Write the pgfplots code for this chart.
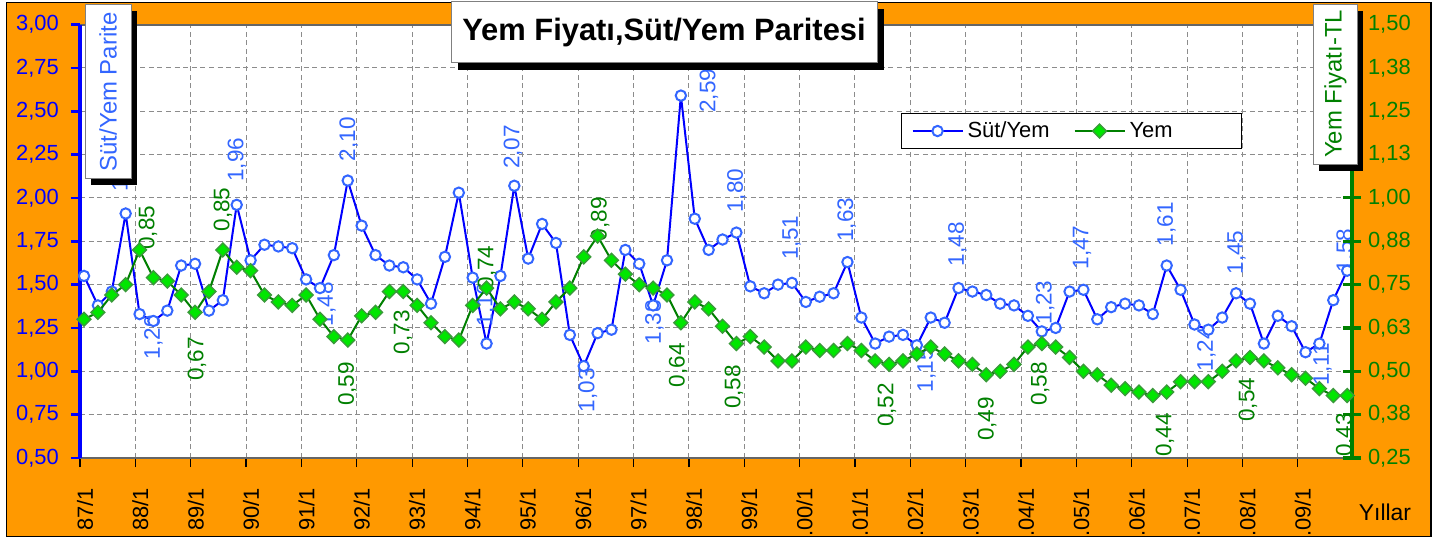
\documentclass[border=0pt]{standalone}
\usepackage{pgfplots}
\pgfplotsset{compat=1.18}
\usepackage{pgfplotstable}
\usepackage{fontspec}
\setmainfont{Liberation Sans}
\definecolor{bgor}{HTML}{FF9900}
\definecolor{lblue}{HTML}{3366FF}
\definecolor{lineblue}{HTML}{0000FF}
\definecolor{dgreen}{HTML}{008000}
\definecolor{fgreen}{HTML}{00E600}
\definecolor{egreen}{HTML}{3A9A3A}
\definecolor{gridgray}{HTML}{8C8C8C}
\newcommand{\fs}[1]{\fontsize{#1}{#1}\selectfont}

\pgfplotstableread{
i sy yem
0 1.55 0.65
1 1.38 0.67
2 1.46 0.72
3 1.91 0.75
4 1.33 0.85
5 1.29 0.77
6 1.35 0.76
7 1.61 0.72
8 1.62 0.67
9 1.35 0.73
10 1.41 0.85
11 1.96 0.80
12 1.64 0.79
13 1.73 0.72
14 1.72 0.70
15 1.71 0.69
16 1.53 0.72
17 1.48 0.65
18 1.67 0.60
19 2.10 0.59
20 1.84 0.66
21 1.67 0.67
22 1.61 0.73
23 1.60 0.73
24 1.53 0.69
25 1.39 0.64
26 1.66 0.60
27 2.03 0.59
28 1.54 0.69
29 1.16 0.74
30 1.55 0.68
31 2.07 0.70
32 1.65 0.68
33 1.85 0.65
34 1.74 0.70
35 1.21 0.74
36 1.03 0.83
37 1.22 0.89
38 1.24 0.82
39 1.70 0.78
40 1.62 0.75
41 1.38 0.74
42 1.64 0.72
43 2.59 0.64
44 1.88 0.70
45 1.70 0.68
46 1.76 0.63
47 1.80 0.58
48 1.49 0.60
49 1.45 0.57
50 1.50 0.53
51 1.51 0.53
52 1.40 0.57
53 1.43 0.56
54 1.45 0.56
55 1.63 0.58
56 1.31 0.56
57 1.16 0.53
58 1.20 0.52
59 1.21 0.53
60 1.15 0.55
61 1.31 0.57
62 1.28 0.55
63 1.48 0.53
64 1.46 0.52
65 1.44 0.49
66 1.39 0.50
67 1.38 0.52
68 1.32 0.57
69 1.23 0.58
70 1.25 0.57
71 1.46 0.54
72 1.47 0.50
73 1.30 0.49
74 1.37 0.46
75 1.39 0.45
76 1.38 0.44
77 1.33 0.43
78 1.61 0.44
79 1.47 0.47
80 1.27 0.47
81 1.24 0.47
82 1.31 0.50
83 1.45 0.53
84 1.39 0.54
85 1.16 0.53
86 1.32 0.51
87 1.26 0.49
88 1.11 0.48
89 1.16 0.45
90 1.41 0.43
91 1.58 0.43
}\data

\begin{document}
\begin{tikzpicture}[
  lab/.style={rotate=90, inner sep=0pt, font=\fs{11.3}},
  la/.style={lab, anchor=west},
  lb/.style={lab, anchor=east},
  bl/.style={text=lblue},
  gl/.style={text=dgreen},
]
\path[use as bounding box] (0,0) rectangle (717bp,269.5bp);
\fill[white] (0,0) rectangle (717bp,269.5bp);
\filldraw[fill=bgor, draw=black, line width=0.75bp] (3.25bp,1.25bp) rectangle (715.5bp,268.25bp);

\begin{axis}[
  at={(40bp,40.5bp)}, anchor=south west,
  width=636bp, height=216.75bp, scale only axis,
  xmin=-0.29, xmax=91.35, ymin=0.5, ymax=3,
  axis background/.style={fill=white},
  xtick={-0.29,3.698,7.686,11.674,15.662,19.65,23.638,27.626,31.614,35.602,39.59,43.578,47.566,51.554,55.542,59.53,63.518,67.506,71.494,75.482,79.47,83.458,87.446},
  xticklabels={87/1,88/1,89/1,90/1,91/1,92/1,93/1,94/1,95/1,96/1,97/1,98/1,99/1,.00/1,.01/1,.02/1,.03/1,.04/1,.05/1,.06/1,.07/1,.08/1,.09/1},
  ytick={0.5,0.75,1,1.25,1.5,1.75,2,2.25,2.5,2.75,3},
  yticklabels={{0,50},{0,75},{1,00},{1,25},{1,50},{1,75},{2,00},{2,25},{2,50},{2,75},{3,00}},
  xtick pos=bottom, ytick pos=left,
  tick align=outside,
  major tick length=4.5bp,
  separate axis lines,
  x axis line style={draw=black!60, line width=1bp},
  y axis line style={draw=blue, line width=2bp},
  xtick style={black, line width=0.6bp},
  ytick style={blue, line width=1.3bp},
  xticklabel style={xshift=2.5bp, yshift=-7bp, rotate=90, anchor=east, font=\fs{11}},
  yticklabel style={xshift=-2.6bp, text=blue, font=\fs{11}},
  grid=major,
  major grid style={gridgray, line width=0.5bp, dash pattern=on 2.5bp off 1.8bp},
]
\addplot[lineblue, line width=1bp, mark=*, mark size=2.6bp,
  mark options={draw=lblue, fill=white, line width=1bp}] table[x=i, y=sy] {\data};
% Suet/Yem labels above
\node[la,bl] at (axis cs:2.67,2.034) {1,91};
\node[la,bl] at (axis cs:11.02,2.092) {1,96};
\node[la,bl] at (axis cs:19.06,2.209) {2,10};
\node[la,bl] at (axis cs:28.96,1.256) {1,16};
\node[la,bl] at (axis cs:30.91,2.165) {2,07};
\node[la,bl] at (axis cs:45.03,2.489) {2,59};
\node[la,bl] at (axis cs:47.01,1.913) {1,80};
\node[la,bl] at (axis cs:50.97,1.642) {1,51};
\node[la,bl] at (axis cs:54.94,1.746) {1,63};
\node[la,bl] at (axis cs:62.93,1.604) {1,48};
\node[la,bl] at (axis cs:69.24,1.268) {1,23};
\node[la,bl] at (axis cs:71.90,1.585) {1,47};
\node[la,bl] at (axis cs:77.99,1.719) {1,61};
\node[la,bl] at (axis cs:83.03,1.556) {1,45};
\node[la,bl] at (axis cs:90.89,1.567) {1,58};
% Suet/Yem labels below
\node[lb,bl] at (axis cs:5.01,1.325) {1,29};
\node[lb,bl] at (axis cs:17.47,1.516) {1,48};
\node[lb,bl] at (axis cs:36.31,1.020) {1,03};
\node[lb,bl] at (axis cs:41.10,1.412) {1,38};
\node[lb,bl] at (axis cs:60.70,1.135) {1,15};
\node[lb,bl] at (axis cs:80.87,1.256) {1,24};
\node[lb,bl] at (axis cs:89.23,1.164) {1,11};
\end{axis}

\begin{axis}[
  at={(40bp,40.5bp)}, anchor=south west,
  width=636bp, height=216.75bp, scale only axis,
  xmin=-0.29, xmax=91.35, ymin=0.25, ymax=1.5,
  axis x line=none, axis y line*=right,
  y axis line style={draw=dgreen, line width=2bp, -},
  ytick={0.25,0.375,0.5,0.625,0.75,0.875,1,1.125,1.25,1.375,1.5},
  yticklabels={{0,25},{0,38},{0,50},{0,63},{0,75},{0,88},{1,00},{1,13},{1,25},{1,38},{1,50}},
  ytick style={dgreen, line width=1.6bp},
  tick align=center, major tick length=9bp,
  yticklabel style={text=dgreen, font=\fs{11}},
  legend image code/.code={\draw[mark repeat=2,mark phase=2,#1] plot coordinates {(0bp,0bp) (12.5bp,0bp) (25bp,0bp)};},
  legend style={at={(0.6454,0.7958)}, anchor=north west, draw=black, line width=0.6bp,
    fill=white, font=\fs{11}, legend columns=2, inner xsep=5bp, inner ysep=2bp,
    /tikz/every even column/.append style={column sep=10bp}},
]
\addlegendimage{lineblue, line width=1bp, mark=*, mark size=2.6bp,
  mark options={draw=lblue, fill=white, line width=1bp}}
\addlegendentry{Süt/Yem}
\addplot[dgreen, line width=1bp, mark=square*, mark size=2.45bp,
  mark options={rotate=45, draw=egreen, fill=fgreen, line width=0.7bp}] table[x=i, y=yem] {\data};
\addlegendentry{\makebox[49bp][l]{Yem}}
% Yem labels above (right axis coordinates)
\node[la,gl] at (axis cs:4.61,0.850) {0,85};
\node[la,gl] at (axis cs:10.01,0.902) {0,85};
\node[la,gl] at (axis cs:29.03,0.735) {0,74};
\node[la,gl] at (axis cs:37.18,0.874) {0,89};
% Yem labels below
\node[lb,gl] at (axis cs:8.14,0.600) {0,67};
\node[lb,gl] at (axis cs:18.98,0.528) {0,59};
\node[lb,gl] at (axis cs:22.98,0.677) {0,73};
\node[lb,gl] at (axis cs:42.80,0.582) {0,64};
\node[lb,gl] at (axis cs:46.83,0.519) {0,58};
\node[lb,gl] at (axis cs:57.85,0.467) {0,52};
\node[lb,gl] at (axis cs:65.06,0.427) {0,49};
\node[lb,gl] at (axis cs:68.88,0.528) {0,58};
\node[lb,gl] at (axis cs:77.88,0.381) {0,44};
\node[lb,gl] at (axis cs:83.86,0.482) {0,54};
\node[lb,gl] at (axis cs:90.85,0.381) {0,43};
\end{axis}

% title box
\fill[black] (229bp,234.5bp) rectangle (442bp,265bp);
\filldraw[fill=white, draw=black!50, line width=0.5bp] (225.5bp,238bp) rectangle (438.5bp,268.5bp);
\node[font=\fs{15.5}\bfseries, text=black] at (332bp,253bp) {Yem Fiyatı,Süt/Yem Paritesi};
% left axis title box
\fill[black] (45.5bp,177bp) rectangle (68.5bp,264bp);
\filldraw[fill=white, draw=black!50, line width=0.5bp] (42.5bp,180bp) rectangle (65.5bp,267bp);
\node[rotate=90, font=\fs{12}, text=lblue] at (54bp,223.5bp) {Süt/Yem Parite};
% right axis title box
\fill[black] (659.7bp,184bp) rectangle (681.7bp,264bp);
\filldraw[fill=white, draw=black!50, line width=0.5bp] (656.7bp,187bp) rectangle (678.7bp,267bp);
\node[rotate=90, font=\fs{12}, text=dgreen] at (667.7bp,227.5bp) {Yem Fiyatı-TL};
% x axis name
\node[font=\fs{11.5}, text=black] at (692.5bp,13.5bp) {Yıllar};
\end{tikzpicture}
\end{document}
